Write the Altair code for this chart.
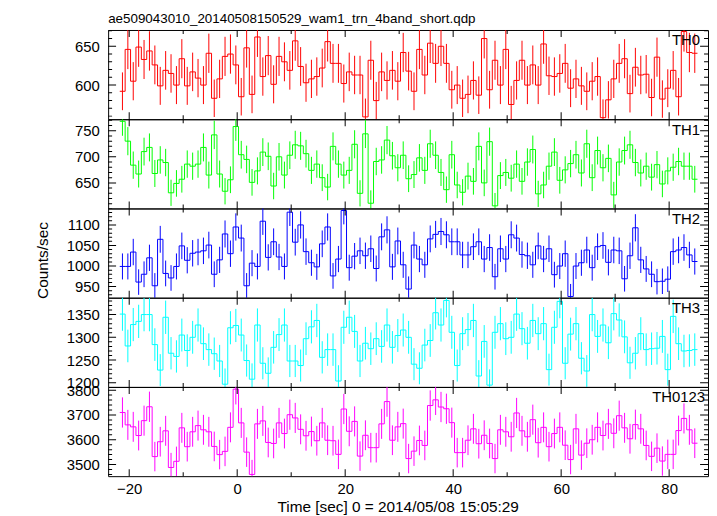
import altair as alt
import numpy as np
import pandas as pd

FONT = "Liberation Sans"
TITLE = "ae509043010_20140508150529_wam1_trn_4band_short.qdp"
X_TITLE = "Time [sec] 0 = 2014/05/08 15:05:29"
Y_TITLE = "Counts/sec"

# 1-s bins, left edge of the first bin
T_START = -21.75
BIN_WIDTH = 1.0
X_DOMAIN = [-23.9, 87.2]
X_MAJOR = [-20, 0, 20, 40, 60, 80]
X_MINOR = [-10, 10, 30, 50, 70]

BANDS = ["TH0", "TH1", "TH2", "TH3", "TH0123"]
COLORS = ["#ff0000", "#00ff00", "#0000ff", "#00ffff", "#ff00ff"]
Y_DOMAINS = [[556, 671], [601, 772], [923, 1140], [1191, 1387], [3453, 3813]]
Y_LABELS = [[600, 650], [650, 700, 750], [950, 1000, 1050, 1100],
            [1200, 1250, 1300, 1350], [3500, 3600, 3700, 3800]]
Y_MINOR_STEP = [10, 10, 10, 10, 20]

TH0 = [592, 646, 605, 649, 633, 644, 626, 599, 619, 615,
       600, 634, 599, 617, 609, 600, 641, 583, 608, 637,
       640, 626, 585, 648, 588, 662, 611, 638, 601, 637,
       630, 619, 657, 624, 603, 608, 611, 622, 656, 628,
       628, 602, 617, 613, 613, 559, 632, 580, 617, 606,
       619, 605, 642, 618, 592, 646, 613, 654, 628, 650,
       628, 594, 600, 583, 588, 606, 587, 660, 594, 632,
       600, 646, 575, 606, 632, 600, 626, 600, 653, 612,
       611, 615, 628, 596, 608, 599, 592, 605, 611, 558,
       581, 608, 628, 634, 589, 623, 613, 614, 584, 636,
       582, 596, 619, 585, 669, 642, 641]

TH1 = [768, 730, 684, 667, 710, 718, 668, 694, 689, 631,
       649, 657, 686, 682, 686, 718, 665, 742, 667, 634,
       656, 758, 704, 695, 651, 673, 709, 701, 644, 700,
       665, 703, 723, 721, 706, 674, 686, 660, 642, 720,
       686, 665, 674, 724, 630, 744, 611, 691, 694, 732,
       702, 679, 703, 658, 666, 698, 674, 725, 703, 670,
       637, 704, 646, 632, 663, 653, 720, 650, 729, 606,
       664, 670, 659, 686, 653, 690, 714, 629, 646, 682,
       709, 655, 675, 687, 704, 669, 725, 660, 712, 679,
       697, 627, 690, 712, 723, 689, 669, 682, 661, 685,
       648, 673, 680, 691, 682, 682, 657]

TH2 = [999, 999, 1034, 961, 980, 1020, 952, 1065, 982, 971,
       999, 1049, 1014, 1031, 1034, 1037, 1051, 980, 1015, 1078,
       1030, 1095, 1068, 952, 1007, 999, 1109, 1021, 1059, 1022,
       999, 1131, 1058, 1100, 1035, 1008, 998, 1054, 1095, 976,
       1017, 1135, 996, 1024, 1037, 1025, 1042, 994, 1071, 1088,
       998, 1061, 1003, 944, 1051, 1017, 1003, 1066, 1077, 1084,
       1076, 1059, 1059, 1027, 1027, 1047, 1059, 1017, 1045, 974,
       1042, 1017, 1076, 1068, 1028, 1025, 1003, 1049, 1017, 1042,
       979, 1000, 1030, 926, 1000, 1008, 1039, 996, 1047, 1050,
       1009, 1039, 1037, 969, 1025, 1093, 1015, 993, 980, 962,
       963, 968, 1035, 1039, 1045, 1027, 1011]

TH3 = [1351, 1281, 1328, 1335, 1350, 1350, 1284, 1228, 1344, 1265,
       1258, 1305, 1271, 1300, 1327, 1286, 1273, 1264, 1248, 1197,
       1321, 1326, 1305, 1249, 1208, 1327, 1243, 1221, 1278, 1306,
       1327, 1248, 1248, 1238, 1297, 1323, 1337, 1256, 1273, 1273,
       1204, 1322, 1344, 1313, 1248, 1287, 1275, 1297, 1280, 1327,
       1278, 1304, 1316, 1300, 1241, 1232, 1283, 1293, 1354, 1327,
       1381, 1311, 1238, 1308, 1317, 1337, 1215, 1291, 1195, 1311,
       1330, 1297, 1300, 1351, 1319, 1287, 1337, 1308, 1330, 1229,
       1322, 1379, 1243, 1307, 1330, 1254, 1226, 1350, 1302, 1327,
       1288, 1352, 1338, 1301, 1244, 1265, 1308, 1273, 1275, 1276,
       1302, 1229, 1346, 1286, 1270, 1271, 1273]

TH0123 = [3710, 3660, 3652, 3617, 3677, 3733, 3532, 3592, 3636, 3488,
          3513, 3648, 3572, 3632, 3657, 3640, 3632, 3573, 3540, 3553,
          3650, 3804, 3668, 3550, 3460, 3664, 3676, 3589, 3585, 3668,
          3625, 3701, 3688, 3642, 3616, 3633, 3596, 3668, 3598, 3596,
          3541, 3724, 3634, 3674, 3534, 3618, 3568, 3568, 3664, 3754,
          3598, 3652, 3665, 3524, 3554, 3597, 3577, 3738, 3761, 3732,
          3725, 3669, 3548, 3548, 3598, 3644, 3584, 3618, 3585, 3524,
          3640, 3632, 3612, 3708, 3636, 3612, 3681, 3588, 3650, 3572,
          3625, 3650, 3578, 3520, 3644, 3538, 3586, 3600, 3650, 3617,
          3664, 3626, 3697, 3648, 3604, 3661, 3644, 3577, 3533, 3566,
          3514, 3541, 3541, 3637, 3686, 3640, 3586]

RATES = [TH0, TH1, TH2, TH3, TH0123]
LABEL_RIGHT_GAP = [8, 8, 8, 8, 3]

W, H = 605, 90


def panel(i):
    vals = np.array(RATES[i], dtype=float)
    n = len(vals)
    starts = T_START + BIN_WIDTH * np.arange(n)
    step_df = pd.DataFrame({
        "t": np.ravel(np.column_stack([starts, starts + BIN_WIDTH])),
        "rate": np.repeat(vals, 2),
        "k": np.arange(2 * n),
    })
    err = np.sqrt(vals * BIN_WIDTH) / BIN_WIDTH  # Poisson error of each bin
    err_df = pd.DataFrame({"t": starts + BIN_WIDTH / 2,
                           "lo": vals - err, "hi": vals + err})

    last = i == len(RATES) - 1
    xscale = alt.Scale(domain=X_DOMAIN, nice=False, zero=False)
    yscale = alt.Scale(domain=Y_DOMAINS[i], nice=False, zero=False)

    if last:
        xaxis = alt.Axis(values=X_MAJOR, format="d", title=X_TITLE, ticks=False, tickSize=0,
                         domain=False, grid=False, labelPadding=5, labelFlush=False,
                         titleX=292, titleY=24, titleBaseline="top")
    else:
        xaxis = None

    if i == 2:
        yaxis = alt.Axis(values=Y_LABELS[i], format="d", title=Y_TITLE, ticks=False, tickSize=0,
                         domain=False, grid=False, labelPadding=9, labelFlush=False,
                         titleX=-58, titleY=52)
    else:
        yaxis = alt.Axis(values=Y_LABELS[i], format="d", title=None, ticks=False, tickSize=0,
                         domain=False, grid=False, labelPadding=9, labelFlush=False)

    c = COLORS[i]
    lo_d, hi_d = Y_DOMAINS[i]
    st = Y_MINOR_STEP[i]
    all_y = np.arange(np.ceil(lo_d / st) * st, hi_d + 0.01, st)
    y_major = [v for v in Y_LABELS[i] if lo_d <= v <= hi_d]
    y_minor = [v for v in all_y if v not in Y_LABELS[i]]

    step = alt.Chart(step_df).mark_line(color=c, strokeWidth=1, clip=True).encode(
        x=alt.X("t:Q", scale=xscale, axis=xaxis),
        y=alt.Y("rate:Q", scale=yscale, axis=yaxis),
        order="k:Q",
    )
    bars = alt.Chart(err_df).mark_rule(color=c, strokeWidth=1, clip=True).encode(
        x=alt.X("t:Q", scale=xscale, axis=xaxis),
        y=alt.Y("lo:Q", scale=yscale, axis=yaxis),
        y2="hi:Q",
    )

    layers = [bars, step]
    for vals_t, size in ((y_major, 16), (y_minor, 8)):
        tdf = pd.DataFrame({"v": vals_t})
        for xpos in (0, W):
            layers.append(
                alt.Chart(tdf).mark_tick(orient="horizontal", clip=True, color="black",
                                         thickness=1, size=size, opacity=1).encode(
                    y=alt.Y("v:Q", scale=yscale, axis=yaxis),
                    x=alt.value(xpos),
                )
            )
    for vals_t, size in ((X_MAJOR, 14), (X_MINOR, 8)):
        tdf = pd.DataFrame({"v": vals_t})
        for ypos in (0, H):
            layers.append(
                alt.Chart(tdf).mark_tick(orient="vertical", clip=True, color="black",
                                         thickness=1, size=size, opacity=1).encode(
                    x=alt.X("v:Q", scale=xscale, axis=xaxis),
                    y=alt.value(ypos),
                )
            )
    lab = alt.Chart(pd.DataFrame({"label": [BANDS[i]]})).mark_text(
        align="right", baseline="alphabetic", fontSize=15, font=FONT, color="black"
    ).encode(
        x=alt.value(W - LABEL_RIGHT_GAP[i]),
        y=alt.value(15.5),
        text="label:N",
    )
    layers.append(lab)

    props = dict(width=W, height=H)
    if i == 0:
        props["title"] = alt.TitleParams(TITLE, anchor="start", frame="group",
                                         fontSize=13.5, font=FONT, fontWeight="normal",
                                         color="black", offset=5)
    return alt.layer(*layers).properties(**props)


chart = alt.vconcat(*[panel(i) for i in range(len(RATES))], spacing=0, bounds="flush").properties(
    padding={"left": 27, "top": 1, "right": 0, "bottom": 0}
).configure_view(
    stroke="black", strokeWidth=1
).configure_axis(
    labelFont=FONT, labelFontSize=15, labelColor="black",
    titleFont=FONT, titleFontSize=15.5, titleColor="black", titleFontWeight="normal",
)

chart.save("out.html", embed_options={"renderer": "svg", "actions": False})
